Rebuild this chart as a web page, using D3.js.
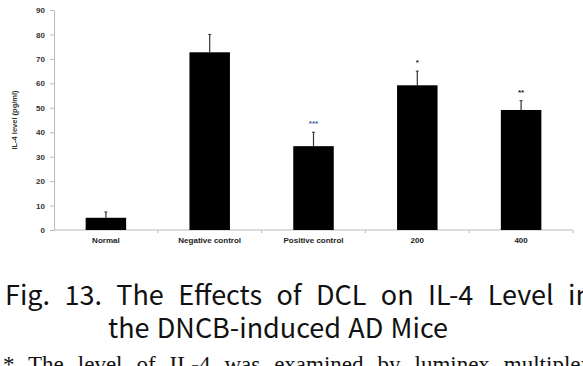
<!DOCTYPE html>
<html><head><meta charset="utf-8">
<script src="https://cdn.jsdelivr.net/npm/d3@7"></script>
<style>body{margin:0;background:#fff}svg{display:block}</style>
</head><body>
<svg id="c" width="583" height="366"></svg>
<script>
const categories = ["Normal", "Negative control", "Positive control", "200", "400"];
const values = [5, 72.7, 34.3, 59.2, 49.1];
const errors = [2.4, 7.3, 5.7, 5.8, 3.8];
const marks = ["", "", "***", "*", "**"];
const markColors = ["#000", "#000", "#3a5f9a", "#222", "#222"];
const yTicks = [0, 10, 20, 30, 40, 50, 60, 70, 80, 90];
const yLabel = "IL-4 level (pg/ml)";
const captionLines = ["Fig. 13. The Effects of DCL on IL-4 Level in", "the DNCB-induced AD Mice"];
const noteLine = "* The level of IL-4 was examined by luminex multiplex";

const svg = d3.select("#c");
const x0 = 54, x1 = 573, yTop = 10, yBot = 230;
const x = d3.scaleBand().domain(categories).range([x0, x1]).paddingInner(0.61).paddingOuter(0.305);
const y = d3.scaleLinear().domain([0, 90]).range([yBot, yTop]);

// axes
const yAxis = svg.append("g").attr("transform", `translate(${x0},0)`)
  .call(d3.axisLeft(y).tickValues(yTicks).tickSize(4).tickPadding(5));
yAxis.select(".domain").attr("stroke", "#bbb");
yAxis.selectAll(".tick line").attr("stroke", "#bbb");
yAxis.selectAll(".tick text").attr("font-family", "Liberation Sans, Arial").attr("font-weight", "bold")
  .attr("font-size", 8).attr("fill", "#333");

const xb = d3.scaleLinear().domain([0, categories.length]).range([x0, x1]);
svg.append("line").attr("x1", x0).attr("x2", x1).attr("y1", yBot).attr("y2", yBot).attr("stroke", "#bbb");
svg.selectAll("line.xt").data(d3.range(1, categories.length + 1)).join("line")
  .attr("x1", d => xb(d)).attr("x2", d => xb(d)).attr("y1", yBot).attr("y2", yBot + 3).attr("stroke", "#bbb");

// error bars
svg.selectAll("line.err").data(categories).join("line")
  .attr("x1", d => x(d) + x.bandwidth() / 2).attr("x2", d => x(d) + x.bandwidth() / 2)
  .attr("y1", (d, i) => y(values[i])).attr("y2", (d, i) => y(values[i] + errors[i]))
  .attr("stroke", "#333").attr("stroke-width", 1.2);
svg.selectAll("line.cap").data(categories).join("line")
  .attr("x1", d => x(d) + x.bandwidth() / 2 - 1.5).attr("x2", d => x(d) + x.bandwidth() / 2 + 1.5)
  .attr("y1", (d, i) => y(values[i] + errors[i])).attr("y2", (d, i) => y(values[i] + errors[i]))
  .attr("stroke", "#333").attr("stroke-width", 1);

// bars
svg.selectAll("rect.bar").data(categories).join("rect")
  .attr("x", d => x(d)).attr("width", x.bandwidth())
  .attr("y", (d, i) => y(values[i])).attr("height", (d, i) => yBot - y(values[i]))
  .attr("fill", "#000");

// significance marks
svg.selectAll("text.mk").data(categories).join("text")
  .attr("x", d => x(d) + x.bandwidth() / 2)
  .attr("y", (d, i) => y(values[i] + errors[i]) - 6)
  .attr("text-anchor", "middle").attr("font-family", "Liberation Sans, Arial").attr("font-size", 8)
  .attr("font-weight", "bold")
  .attr("fill", (d, i) => markColors[i]).text((d, i) => marks[i]);

// category labels
svg.selectAll("text.cat").data(categories).join("text")
  .attr("x", d => x(d) + x.bandwidth() / 2).attr("y", 243)
  .attr("text-anchor", "middle").attr("font-family", "Liberation Sans, Arial").attr("font-size", 8)
  .attr("font-weight", "bold").attr("fill", "#222").text(d => d);

// y label
svg.append("text").attr("transform", `translate(17,${(yTop + yBot) / 2}) rotate(-90)`)
  .attr("text-anchor", "middle").attr("font-family", "Liberation Sans, Arial").attr("font-size", 7.5)
  .attr("font-weight", "bold").attr("fill", "#333").text(yLabel);

// justified caption lines: widened word gaps
function justified(str, xStart, xEnd, base, size, family, sx) {
  const t = svg.append("text").attr("font-family", family).attr("font-size", size)
    .attr("fill", "#111").attr("transform", `translate(${xStart},${base}) scale(${sx},1)`).text(str);
  const natural = t.node().getComputedTextLength();
  const nsp = str.split(" ").length - 1;
  const ws = ((xEnd - xStart) / sx - natural) / nsp;
  t.attr("word-spacing", ws);
  return t;
}
justified(captionLines[0], 5, 592, 305, 27, "Noto Sans CJK KR, DejaVu Sans", 1.0);
justified(captionLines[1], 108, 448, 338, 27, "Noto Sans CJK KR, DejaVu Sans", 1.0);
justified(noteLine, 3, 592, 372, 23, "Liberation Serif, serif", 1);
</script>
</body></html>
